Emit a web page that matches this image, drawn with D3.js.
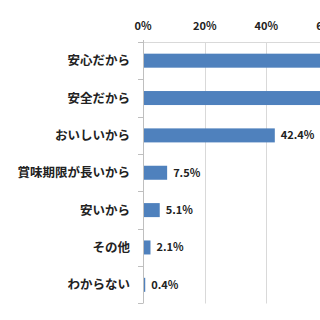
<!DOCTYPE html>
<html>
<head>
<meta charset="utf-8">
<script src="https://cdn.jsdelivr.net/npm/d3@7"></script>
<style>
  html, body { margin: 0; padding: 0; background: #fff; overflow: hidden; }
  svg { display: block; }
</style>
</head>
<body>
<div id="chart"></div>
<script>
// data
const categories = ["安心だから", "安全だから", "おいしいから", "賞味期限が長いから", "安いから", "その他", "わからない"];
const values = [71.3, 64.1, 42.4, 7.5, 5.1, 2.1, 0.4];
const tickValues = [0, 20, 40, 60];

const W = 320, H = 320;
const x0 = 143, pxPer20 = 61.7;
const plotTop = 42, plotBottom = 303.5;

const svg = d3.select("#chart").append("svg")
    .attr("width", W)
    .attr("height", H);

const x = d3.scaleLinear().domain([0, 80]).range([x0, x0 + pxPer20 * 4]);
const y = d3.scaleBand().domain(categories).range([plotTop, plotBottom]).paddingInner(0.625).paddingOuter(0.3125);

// vertical gridlines
svg.append("g")
    .selectAll("line")
    .data(tickValues.filter(d => d > 0))
    .enter()
    .append("line")
    .attr("x1", d => Math.round(x(d)) + 0.5)
    .attr("x2", d => Math.round(x(d)) + 0.5)
    .attr("y1", plotTop)
    .attr("y2", plotBottom)
    .attr("stroke", "#d9d9d9")
    .attr("stroke-width", 1);

// top value axis line
svg.append("line")
    .attr("x1", x0 - 5)
    .attr("x2", W)
    .attr("y1", plotTop + 0.5)
    .attr("y2", plotTop + 0.5)
    .attr("stroke", "#d9d9d9");

// top axis labels (the 60% label is cut at the right edge, as in the original)
svg.append("g")
    .selectAll("text")
    .data(tickValues)
    .enter()
    .append("text")
    .attr("x", d => x(d))
    .attr("y", 30)
    .attr("text-anchor", "middle")
    .attr("font-family", "'Noto Sans CJK JP', 'Open Sans', sans-serif")
    .attr("font-size", "11px")
    .attr("font-weight", 700)
    .attr("fill", "#222")
    .text(d => d + "%");

// bars
svg.append("g")
    .selectAll("rect")
    .data(categories)
    .enter()
    .append("rect")
    .attr("x", x(0) + 1)
    .attr("y", d => y(d))
    .attr("width", (d, i) => x(values[i]) - x(0))
    .attr("height", y.bandwidth())
    .attr("fill", "#4f81bd");

// value labels (only where they fall inside the picture)
svg.append("g")
    .selectAll("text")
    .data(categories.filter((d, i) => x(values[i]) + 7 < W))
    .enter()
    .append("text")
    .attr("x", d => x(values[categories.indexOf(d)]) + 7)
    .attr("y", d => y(d) + y.bandwidth() / 2)
    .attr("dy", "0.36em")
    .attr("font-family", "'Noto Sans CJK JP', 'Open Sans', sans-serif")
    .attr("font-size", "11px")
    .attr("font-weight", 700)
    .attr("fill", "#222")
    .text(d => values[categories.indexOf(d)].toFixed(1) + "%");

// category axis line and tick marks
const step = y.step();
const bandStart = plotTop;
svg.append("line")
    .attr("x1", x0 + 0.5)
    .attr("x2", x0 + 0.5)
    .attr("y1", plotTop - 2)
    .attr("y2", plotBottom)
    .attr("stroke", "#bfbfbf");
svg.append("g")
    .selectAll("line")
    .data(d3.range(categories.length + 1))
    .enter()
    .append("line")
    .attr("x1", x0 - 5)
    .attr("x2", x0)
    .attr("y1", i => Math.round(y(categories[Math.min(i, categories.length - 1)]) - step * 0.3125 + (i === categories.length ? step : 0)) + 0.5)
    .attr("y2", i => Math.round(y(categories[Math.min(i, categories.length - 1)]) - step * 0.3125 + (i === categories.length ? step : 0)) + 0.5)
    .attr("stroke", "#bfbfbf");

// category labels
svg.append("g")
    .selectAll("text")
    .data(categories)
    .enter()
    .append("text")
    .attr("x", 130)
    .attr("y", d => y(d) + y.bandwidth() / 2)
    .attr("dy", "0.36em")
    .attr("text-anchor", "end")
    .attr("font-family", "'Noto Sans CJK JP', sans-serif")
    .attr("font-size", "12.5px")
    .attr("font-weight", 700)
    .attr("fill", "#222")
    .text(d => d);
</script>
</body>
</html>
